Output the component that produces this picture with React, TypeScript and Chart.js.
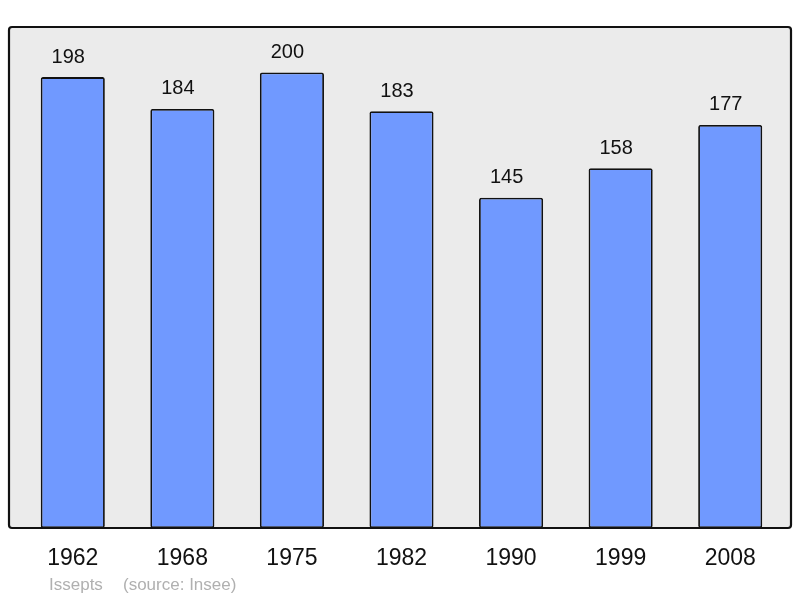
import React, { useEffect, useRef } from "react";
import { Chart, registerables } from "chart.js";

Chart.register(...registerables);

const years: string[] = ["1962", "1968", "1975", "1982", "1990", "1999", "2008"];
const population: number[] = [198, 184, 200, 183, 145, 158, 177];
const yMax = 220;
const commune = "Issepts";
const sourceText = "(source: Insee)";

const FONT = "'Liberation Sans', Arial, sans-serif";

const framePlugin = {
  id: "frame",
  beforeDatasetsDraw(chart: any) {
    const ctx = chart.ctx;
    ctx.save();
    ctx.beginPath();
    ctx.roundRect(9, 27, 782, 501, 3);
    ctx.fillStyle = "#ebebeb";
    ctx.fill();
    ctx.restore();
  },
  afterDatasetsDraw(chart: any) {
    const ctx = chart.ctx;
    const x = chart.scales.x;
    const y = chart.scales.y;
    ctx.save();
    ctx.beginPath();
    ctx.roundRect(9, 27, 782, 501, 3);
    ctx.lineWidth = 2.2;
    ctx.strokeStyle = "#111";
    ctx.stroke();

    // value labels
    ctx.fillStyle = "#111";
    ctx.textAlign = "center";
    ctx.textBaseline = "alphabetic";
    ctx.font = `20px ${FONT}`;
    population.forEach((v, i) => {
      const px = x.getPixelForValue(i);
      const py = y.getPixelForValue(v);
      ctx.fillText(String(v), px - 4.5, py - 14.5);
    });

    // category labels
    ctx.font = `23px ${FONT}`;
    years.forEach((lab, i) => {
      const px = x.getPixelForValue(i);
      ctx.fillText(lab, px, 565);
    });

    // source
    ctx.textAlign = "left";
    ctx.font = `17px ${FONT}`;
    ctx.fillStyle = "#b0b0b0";
    ctx.fillText(commune, 49, 590);
    ctx.fillText(sourceText, 123, 590);
    ctx.restore();
  },
};

export default function App() {
  const ref = useRef<HTMLCanvasElement | null>(null);
  useEffect(() => {
    if (!ref.current) return;
    const chart = new Chart(ref.current, {
      type: "bar",
      data: {
        labels: years,
        datasets: [
          {
            data: population,
            backgroundColor: "#7099ff",
            borderColor: "#111",
            borderWidth: 1.8,
            borderRadius: 2,
            borderSkipped: false,
            barPercentage: 0.585,
            categoryPercentage: 1,
          },
        ],
      },
      options: {
        animation: false,
        responsive: false,
        maintainAspectRatio: false,
        devicePixelRatio: 1,
        layout: { padding: { left: 18, right: 15, top: 27, bottom: 70 } },
        plugins: {
          legend: { display: false },
          tooltip: { enabled: false },
          title: { display: false },
        },
        scales: {
          x: { display: false },
          y: { display: false, min: 0, max: yMax },
        },
      },
      plugins: [framePlugin],
    });
    return () => chart.destroy();
  }, []);
  return (
    <div style={{ position: "fixed", left: 0, top: 0, width: 800, height: 598, background: "#fff" }}>
      <canvas ref={ref} width={800} height={598} style={{ width: 800, height: 598, display: "block" }} />
    </div>
  );
}
